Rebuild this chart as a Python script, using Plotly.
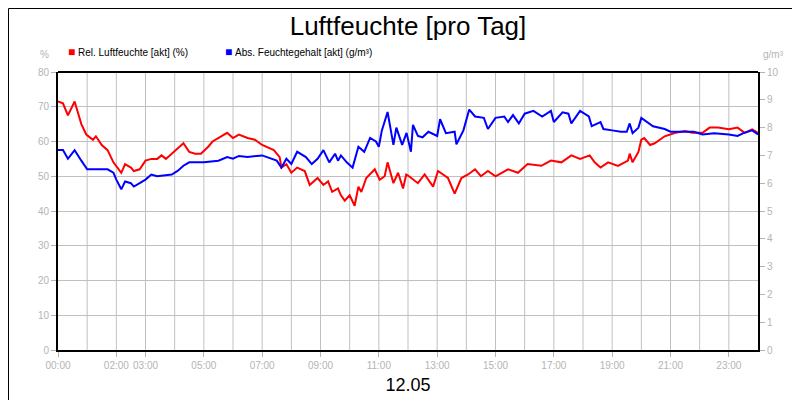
import plotly.graph_objects as go

# Relative Luftfeuchte (%)
rel_h = [0, 0.17, 0.34, 0.57, 0.8, 0.97, 1.2, 1.3, 1.5, 1.7, 1.9, 2.17, 2.3, 2.5, 2.6, 2.8, 3.0, 3.2, 3.4, 3.55,
         3.7, 3.9, 4.1, 4.3, 4.5, 4.7, 4.9, 5.15, 5.3, 5.6, 5.8, 6.0, 6.2, 6.5, 6.75, 7.0, 7.14, 7.4, 7.6, 7.66,
         7.83, 8.0, 8.2, 8.46, 8.63, 8.9, 9.1, 9.26, 9.4, 9.6, 9.7, 9.83, 10.0, 10.17, 10.3, 10.4, 10.57, 10.86,
         11.03, 11.2, 11.3, 11.5, 11.66, 11.83, 11.94, 12.0, 12.34, 12.57, 12.86, 13.03, 13.37, 13.6, 13.83,
         14.06, 14.3, 14.5, 14.74, 15.0, 15.43, 15.77, 16.1, 16.57, 16.9, 17.26, 17.6, 17.9, 18.23, 18.4, 18.6,
         18.86, 19.2, 19.54, 19.6, 19.7, 19.9, 20.0, 20.1, 20.3, 20.46, 20.8, 21.17, 21.5, 21.74, 22.1, 22.34,
         22.63, 23.0, 23.3, 23.54, 23.8, 24.0]
rel_val = [71.5, 71, 67.5, 71.5, 65, 62, 60.5, 61.5, 59, 57.5, 54, 51, 53.5, 52.5, 51.5, 52, 54.5, 55, 55, 56,
           55, 56.5, 58, 59.5, 57, 56.5, 56.5, 58.5, 60, 61.5, 62.5, 61, 62, 61, 60.5, 59, 58.5, 57.5, 55.5, 52.5,
           53.5, 51, 52.5, 51.5, 47.5, 49.5, 47.5, 48.5, 45.5, 46.5, 44.5, 43, 44.5, 41.5, 47, 45.5, 49.5, 52,
           49, 50, 54, 48, 51, 46.5, 50.5, 50.2, 48, 50.5, 47, 51.5, 49.5, 45, 49.5,
           50.5, 52, 50, 51.5, 50, 52, 51, 53.5, 53, 54.5, 54, 56, 55, 56, 54, 52.5,
           54, 53, 54.5, 56.5, 54, 57, 60.5, 61, 59, 59.5, 61.5, 62.5, 63, 62.5, 62.5, 64,
           64, 63.5, 64, 62.5, 63.5, 62.5]

# Absoluter Feuchtegehalt (g/m³)
abs_h = [0, 0.17, 0.34, 0.57, 0.8, 1.0, 1.3, 1.7, 1.9, 2.0, 2.17, 2.3, 2.5, 2.6, 2.8, 3.0, 3.2, 3.4, 3.9, 4.1,
         4.3, 4.5, 5.0, 5.5, 5.8, 6.0, 6.2, 6.5, 7.0, 7.3, 7.5, 7.66, 7.83, 8.0, 8.2, 8.5, 8.7, 8.9, 9.1, 9.3,
         9.5, 9.6, 9.7, 9.9, 10.1, 10.3, 10.5, 10.7, 10.9, 11.0, 11.1, 11.3, 11.5, 11.6, 11.8, 11.95, 12.1,
         12.17, 12.34, 12.5, 12.7, 13.0, 13.1, 13.3, 13.6, 13.66, 13.9, 14.1, 14.3, 14.6, 14.74, 15.0, 15.3,
         15.43, 15.6, 15.8, 16.0, 16.3, 16.6, 16.9, 17.0, 17.3, 17.5, 17.6, 17.9, 18.2, 18.3, 18.6, 18.7, 19.0,
         19.3, 19.5, 19.6, 19.7, 19.9, 20.0, 20.2, 20.4, 20.8, 21.0, 21.5, 21.8, 22.1, 22.5, 23.0, 23.3, 23.5,
         23.8, 24.0]
abs_val = [7.19, 7.19, 6.88, 7.19, 6.81, 6.5, 6.5, 6.5, 6.38, 6.13, 5.78, 6.06, 6.0, 5.88, 6.0, 6.13, 6.31,
           6.25, 6.31, 6.44, 6.63, 6.75, 6.75, 6.81, 6.94, 6.88, 6.98, 6.94, 7.0, 6.88, 6.81, 6.56, 6.88, 6.69,
           7.13, 6.94, 6.69, 6.88, 7.19, 6.75, 7.06, 6.81, 7.0, 6.75, 6.56, 7.31, 7.13, 7.63, 7.5, 7.31, 7.88,
           8.56, 7.38, 8.0, 7.38, 7.81, 7.13,
           8.1, 7.7, 7.65, 7.85, 7.7, 8.3, 7.8, 7.85, 7.4, 7.9, 8.65, 8.4, 8.35, 7.95, 8.35, 8.4,
           8.2, 8.45, 8.15, 8.5, 8.6, 8.4, 8.6, 8.2, 8.55, 8.5, 8.15, 8.6, 8.4, 8.05, 8.2, 7.95, 7.9,
           7.85, 7.85, 8.15, 7.8, 8.0, 8.35, 8.2, 8.05, 7.95, 7.85, 7.85, 7.85, 7.75, 7.8, 7.75, 7.7, 7.8,
           7.9, 7.75]

tick_hours = [0, 2, 3, 5, 7, 9, 11, 13, 15, 17, 19, 21, 23]
tick_text = ["%02d:00" % h for h in tick_hours]
grey = "#b4b4b4"

fig = go.Figure()
fig.add_trace(go.Scatter(x=rel_h, y=rel_val, mode="lines", line=dict(color="#ff0000", width=2),
                         name="Rel. Luftfeuchte [akt] (%)"))
fig.add_trace(go.Scatter(x=abs_h, y=abs_val, mode="lines", line=dict(color="#0000ff", width=2),
                         name="Abs. Feuchtegehalt [akt] (g/m³)", yaxis="y2"))

fig.update_layout(
    width=800, height=400, showlegend=False,
    paper_bgcolor="white", plot_bgcolor="white",
    margin=dict(l=50, r=50, t=64, b=58, autoexpand=False),
    font=dict(family="Liberation Sans, Arial", size=10, color=grey),
    title=dict(text="Luftfeuchte [pro Tag]", x=0.5, y=0.955, xanchor="center", yanchor="middle",
               font=dict(size=26, color="black")),
    xaxis=dict(range=[0, 24], tickmode="array", tickvals=tick_hours, ticktext=tick_text, automargin=False,
               showgrid=False, zeroline=False, showline=True, linecolor="black", linewidth=2,
               ticks="outside", ticklen=5, tickcolor=grey,
               title=dict(text="12.05", font=dict(size=18, color="black"), standoff=8)),
    yaxis=dict(range=[0, 80], dtick=10, showgrid=True, gridcolor="#c0c0c0", zeroline=False, automargin=False,
               showline=True, linecolor="black", linewidth=2, ticks="outside", ticklen=5, tickcolor=grey),
    yaxis2=dict(range=[0, 10], dtick=1, overlaying="y", side="right", showgrid=False, zeroline=False,
                automargin=False, showline=True, linecolor="black", linewidth=2,
                ticks="outside", ticklen=5, tickcolor=grey),
)

# hourly vertical grid lines
for h in range(1, 24):
    fig.add_shape(type="line", xref="x", yref="paper", x0=h, x1=h, y0=0, y1=1,
                  line=dict(color="#c0c0c0", width=1), layer="below")

fig.add_shape(type="line", xref="paper", yref="paper", x0=0, x1=1, y0=1, y1=1,
              line=dict(color="black", width=2))
# border around the whole image
fig.add_shape(type="rect", xref="paper", yref="paper", x0=-49.5 / 700, x1=749.5 / 700,
              y0=-57.5 / 278, y1=1 + 63.5 / 278, line=dict(color="black", width=1))

fig.add_annotation(text="%", xref="paper", yref="paper", x=-7 / 700, y=1 + 17 / 278, showarrow=False,
                   xanchor="right", yanchor="middle", font=dict(size=10, color=grey))
fig.add_annotation(text="g/m³", xref="paper", yref="paper", x=1.005, y=1 + 17 / 278, showarrow=False,
                   xanchor="left", yanchor="middle", font=dict(size=10, color=grey))

legend = [("Rel. Luftfeuchte [akt] (%)", "#ff0000", 8), ("Abs. Feuchtegehalt [akt] (g/m³)", "#0000ff", 165)]
for text, col, px in legend:
    fig.add_annotation(text="■", xref="paper", yref="paper", x=px / 700, y=1 + 20 / 278, showarrow=False,
                       xanchor="left", yanchor="middle", font=dict(size=12, color=col))
    fig.add_annotation(text=text, xref="paper", yref="paper", x=(px + 10) / 700, y=1 + 20 / 278,
                       showarrow=False, xanchor="left", yanchor="middle", font=dict(size=10, color="black"))

fig.write_html("out.html")
